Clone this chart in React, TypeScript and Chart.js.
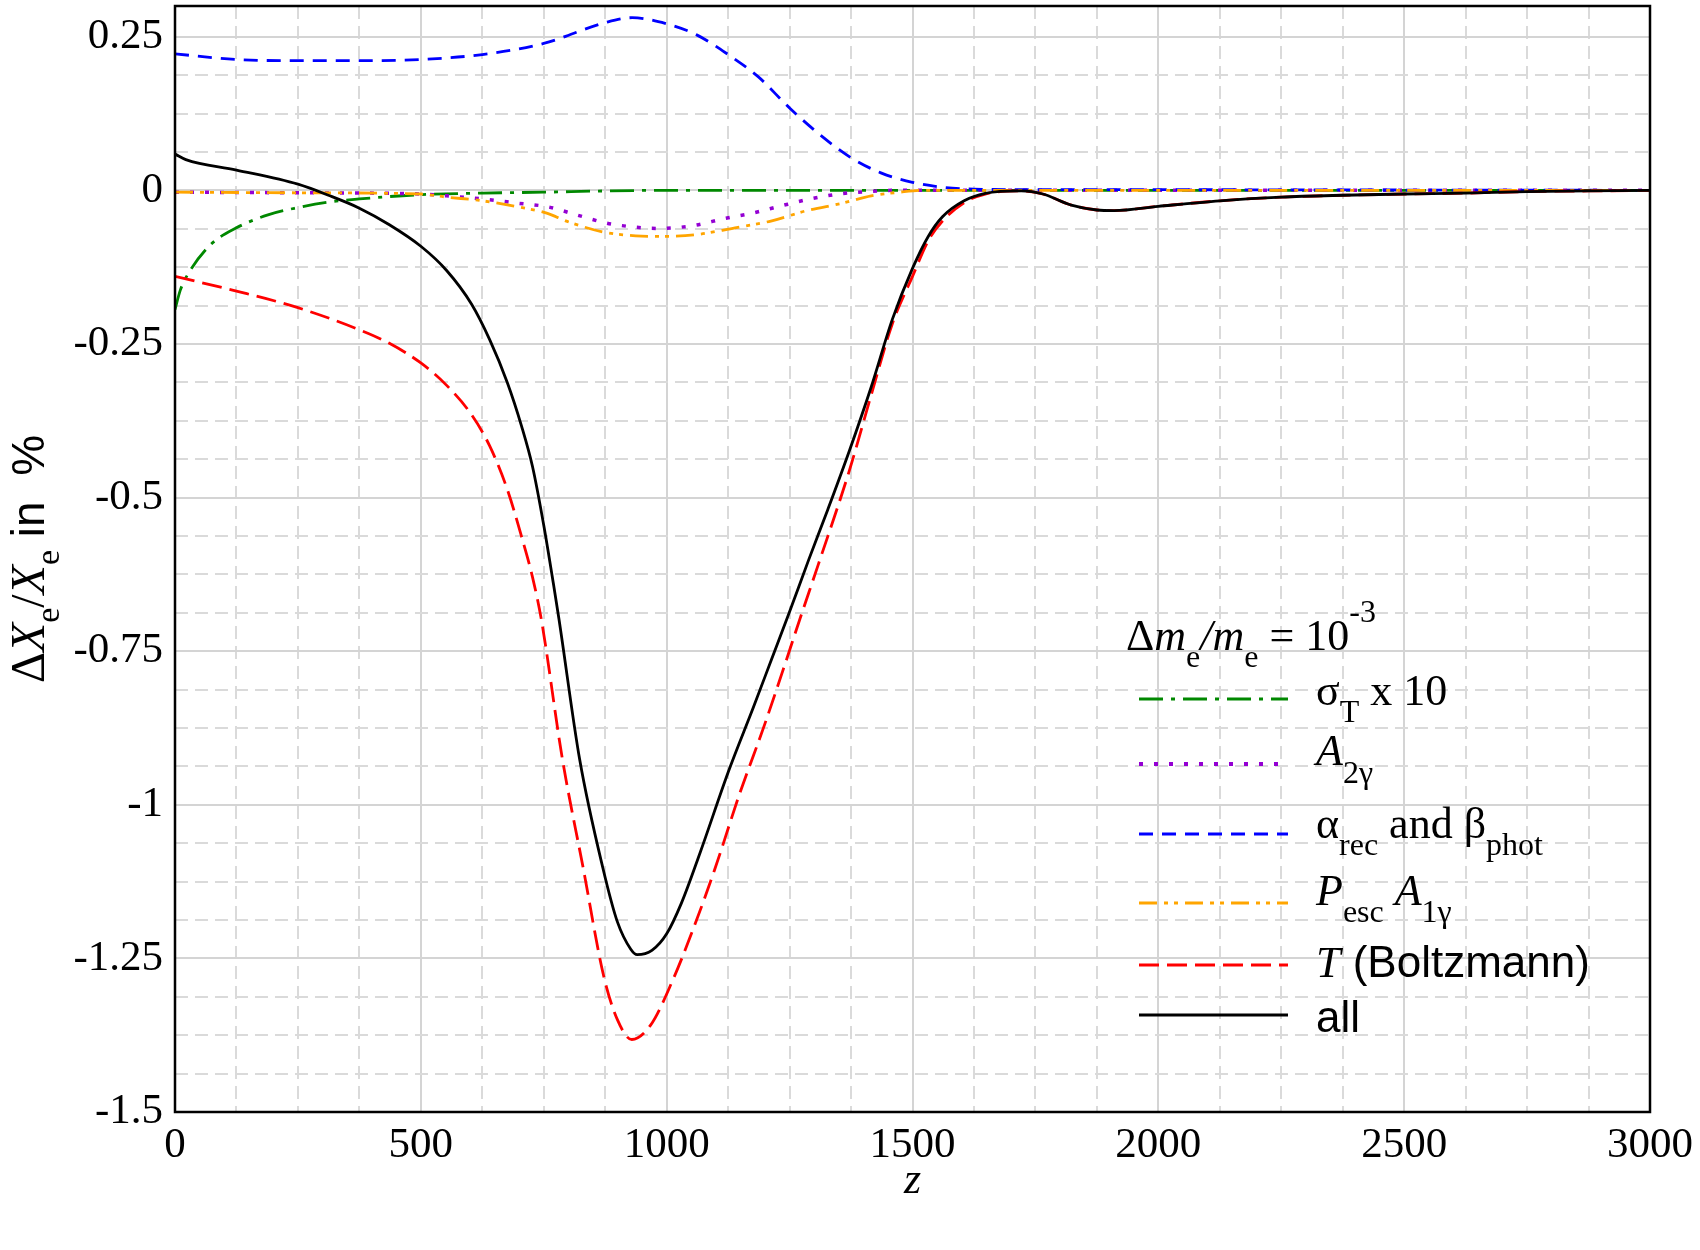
import React, { useEffect, useRef } from "react";
import { Chart, registerables } from "chart.js";

Chart.register(...registerables);

// ---- data (z, ΔXe/Xe in %) ----
const zGreen = [0, 11, 29, 73, 125, 189, 250, 312, 375, 500, 625, 750, 875, 1000, 1500, 2000, 2500, 3000];
const vGreen = [-0.194, -0.162, -0.133, -0.088, -0.061, -0.04, -0.028, -0.019, -0.014, -0.007, -0.0045, -0.003, -0.001, 0, 0, 0, 0, 0];

const zPurple = [0, 250, 500, 552, 625, 698, 759, 817, 876, 937, 985, 1057, 1117, 1175, 1234, 1292, 1350, 1408, 1467, 2000, 3000];
const vPurple = [-0.003, -0.004, -0.006, -0.009, -0.014, -0.021, -0.027, -0.04, -0.053, -0.06, -0.062, -0.057, -0.046, -0.037, -0.025, -0.014, -0.006, -0.002, 0, 0, 0];

const zBlue = [0, 125, 250, 375, 500, 625, 750, 875, 930, 1000, 1061, 1125, 1186, 1250, 1314, 1375, 1437, 1500, 1561, 1625, 1750, 2000, 2500, 3000];
const vBlue = [0.222, 0.213, 0.211, 0.211, 0.213, 0.221, 0.239, 0.273, 0.281, 0.271, 0.253, 0.221, 0.185, 0.134, 0.089, 0.053, 0.028, 0.013, 0.005, 0.002, 0.001, 0.001, 0.0005, 0];

const zOrange = [0, 250, 500, 552, 625, 698, 756, 799, 872, 937, 990, 1061, 1139, 1212, 1285, 1357, 1416, 1474, 1520, 2000, 3000];
const vOrange = [-0.003, -0.004, -0.006, -0.011, -0.017, -0.027, -0.037, -0.051, -0.068, -0.074, -0.075, -0.072, -0.061, -0.05, -0.033, -0.021, -0.009, -0.003, 0, 0, 0];

const zRed = [0, 125, 250, 375, 436, 500, 552, 603, 640, 676, 705, 727, 745, 788, 830, 872, 900, 929, 967, 1011, 1055, 1097, 1148, 1199, 1242, 1270, 1308, 1372, 1416, 1459, 1500, 1532, 1561, 1605, 1648, 1721, 1765, 1823, 1875, 1910, 2000, 2125, 2250, 2375, 2500, 2625, 2750, 2875, 3000];
const vRed = [-0.14, -0.164, -0.191, -0.227, -0.249, -0.281, -0.317, -0.365, -0.416, -0.487, -0.564, -0.629, -0.698, -0.926, -1.102, -1.279, -1.35, -1.382, -1.359, -1.288, -1.2, -1.107, -0.983, -0.87, -0.768, -0.7, -0.61, -0.455, -0.333, -0.217, -0.14, -0.082, -0.05, -0.02, -0.006, -0.001, -0.006, -0.024, -0.032, -0.033, -0.026, -0.017, -0.011, -0.008, -0.006, -0.0045, -0.002, -0.001, 0];

const zAll = [0, 22, 125, 250, 312, 375, 436, 500, 552, 603, 640, 676, 705, 727, 750, 770, 781, 823, 870, 900, 927, 940, 970, 1000, 1030, 1068, 1126, 1177, 1213, 1249, 1289, 1328, 1372, 1416, 1459, 1500, 1532, 1561, 1605, 1648, 1721, 1765, 1823, 1875, 1910, 2000, 2125, 2250, 2375, 2500, 2625, 2750, 2875, 3000];
const vAll = [0.059, 0.05, 0.033, 0.01, -0.008, -0.029, -0.056, -0.091, -0.13, -0.185, -0.243, -0.313, -0.384, -0.449, -0.545, -0.642, -0.698, -0.926, -1.102, -1.191, -1.235, -1.244, -1.237, -1.21, -1.16, -1.078, -0.945, -0.84, -0.764, -0.688, -0.601, -0.519, -0.423, -0.32, -0.21, -0.127, -0.075, -0.043, -0.017, -0.005, -0.001, -0.006, -0.024, -0.032, -0.033, -0.026, -0.017, -0.011, -0.008, -0.006, -0.0045, -0.002, -0.001, 0];

// ---- axes ----
const xMin = 0;
const xMax = 3000;
const xMajorStep = 500;
const xMinorStep = 125;
const yMin = -1.5;
const yMax = 0.3;
const yMajorStep = 0.25;
const yMinorStep = 0.0625;
const yTickLabels: Record<string, string> = {
  "0.25": "0.25", "0": "0", "-0.25": "-0.25", "-0.5": "-0.5", "-0.75": "-0.75",
  "-1": "-1", "-1.25": "-1.25", "-1.5": "-1.5",
};

const SERIF = '"Liberation Serif", "Times New Roman", serif';
const SANS = '"Liberation Sans", Arial, sans-serif';

type Part = { t: string; f: string; dy?: number };

function drawParts(ctx: CanvasRenderingContext2D, x: number, y: number, parts: Part[]) {
  let cx = x;
  for (const p of parts) {
    ctx.font = p.f;
    ctx.fillText(p.t, cx, y + (p.dy || 0));
    cx += ctx.measureText(p.t).width;
  }
  return cx;
}
function partsWidth(ctx: CanvasRenderingContext2D, parts: Part[]) {
  let w = 0;
  for (const p of parts) {
    ctx.font = p.f;
    w += ctx.measureText(p.t).width;
  }
  return w;
}

const isMul = (v: number, s: number) => Math.abs(v / s - Math.round(v / s)) < 1e-6;

const f44 = `44px ${SERIF}`;
const i44 = `italic 44px ${SERIF}`;
const s32 = `32px ${SERIF}`;
const sans44 = `44px ${SANS}`;

const legendRows = [
  { color: "#008800", dash: [24, 8, 4, 8], width: 3, y: 699, base: 705,
    parts: [{ t: "σ", f: f44 }, { t: "T", f: s32, dy: 17 }, { t: " x 10", f: f44 }] },
  { color: "#9400D3", dash: [4, 11], width: 4, y: 764, base: 765,
    parts: [{ t: "A", f: i44 }, { t: "2γ", f: s32, dy: 18 }] },
  { color: "#0000FF", dash: [14, 9], width: 3, y: 834, base: 838,
    parts: [{ t: "α", f: f44 }, { t: "rec", f: s32, dy: 17 }, { t: " and β", f: f44 }, { t: "phot", f: s32, dy: 17 }] },
  { color: "#FFA500", dash: [18, 7, 4, 6, 4, 7], width: 3, y: 903, base: 905,
    parts: [{ t: "P", f: i44 }, { t: "esc", f: s32, dy: 17 }, { t: " ", f: f44 }, { t: "A", f: i44 }, { t: "1γ", f: s32, dy: 17 }] },
  { color: "#FF0000", dash: [20, 8], width: 3, y: 965, base: 977,
    parts: [{ t: "T", f: i44 }, { t: " (Boltzmann)", f: sans44 }] },
  { color: "#000000", dash: [] as number[], width: 3, y: 1015, base: 1032,
    parts: [{ t: "all", f: sans44 }] },
];

const decorPlugin = {
  id: "decor",
  afterDatasetsDraw(chart: any) {
    const { ctx, chartArea } = chart;
    ctx.save();
    // frame
    ctx.strokeStyle = "#000";
    ctx.lineWidth = 2.5;
    ctx.setLineDash([]);
    ctx.strokeRect(chartArea.left, chartArea.top, chartArea.right - chartArea.left, chartArea.bottom - chartArea.top);

    ctx.fillStyle = "#000";
    ctx.textBaseline = "alphabetic";
    ctx.textAlign = "left";
    // legend title
    drawParts(ctx, 1126, 650, [
      { t: "Δ", f: f44 }, { t: "m", f: i44 }, { t: "e", f: s32, dy: 17 }, { t: "/", f: i44 },
      { t: "m", f: i44 }, { t: "e", f: s32, dy: 17 }, { t: " = 10", f: f44 }, { t: "-3", f: s32, dy: -28 },
    ]);
    for (const r of legendRows) {
      ctx.beginPath();
      ctx.strokeStyle = r.color;
      ctx.lineWidth = r.width;
      ctx.lineCap = "butt";
      ctx.setLineDash(r.dash);
      ctx.moveTo(1139, r.y);
      ctx.lineTo(1288, r.y);
      ctx.stroke();
      ctx.setLineDash([]);
      ctx.fillStyle = "#000";
      drawParts(ctx, 1316, r.base, r.parts);
    }

    // x title
    ctx.font = `italic 44px ${SERIF}`;
    ctx.textAlign = "center";
    ctx.fillText("z", (chartArea.left + chartArea.right) / 2, 1193);
    ctx.textAlign = "left";

    // y title
    const yParts: Part[] = [
      { t: "Δ", f: `48px ${SERIF}` }, { t: "X", f: `italic 48px ${SERIF}` }, { t: "e", f: `34px ${SERIF}`, dy: 15 },
      { t: "/", f: `48px ${SERIF}` }, { t: "X", f: `italic 48px ${SERIF}` }, { t: "e", f: `34px ${SERIF}`, dy: 15 },
      { t: " in  %", f: `46px ${SANS}` },
    ];
    const w = partsWidth(ctx, yParts);
    ctx.translate(44, (chartArea.top + chartArea.bottom) / 2);
    ctx.rotate(-Math.PI / 2);
    drawParts(ctx, -w / 2, 0, yParts);
    ctx.restore();
  },
};

function mk(label: string, zs: number[], vs: number[], color: string, dash: number[], width: number, order: number) {
  return {
    label,
    data: zs.map((z, i) => ({ x: z, y: vs[i] })),
    borderColor: color,
    backgroundColor: color,
    borderWidth: width,
    borderDash: dash,
    pointRadius: 0,
    fill: false,
    cubicInterpolationMode: "monotone" as const,
    order,
  };
}

export default function App() {
  const ref = useRef<HTMLCanvasElement | null>(null);
  useEffect(() => {
    if (!ref.current) return;
    const chart = new Chart(ref.current, {
      type: "line",
      data: {
        datasets: [
          mk("all", zAll, vAll, "#000000", [], 2.8, 0),
          mk("T (Boltzmann)", zRed, vRed, "#FF0000", [20, 8], 2.8, 1),
          mk("Pesc A1γ", zOrange, vOrange, "#FFA500", [18, 7, 4, 6, 4, 7], 2.8, 2),
          mk("α and β", zBlue, vBlue, "#0000FF", [14, 9], 2.8, 3),
          mk("A2γ", zPurple, vPurple, "#9400D3", [4, 11], 3.5, 4),
          mk("σT x 10", zGreen, vGreen, "#008800", [24, 8, 4, 8], 2.8, 5),
        ] as any,
      },
      options: {
        responsive: false,
        animation: false,
        layout: { padding: { left: 0, top: 6, right: 50, bottom: 0 } },
        plugins: { legend: { display: false }, tooltip: { enabled: false }, title: { display: false } },
        scales: {
          x: {
            type: "linear",
            min: xMin,
            max: xMax,
            afterFit: (s: any) => { s.height = 138; s.paddingLeft = 0; s.paddingRight = 0; },
            afterBuildTicks: (s: any) => {
              const t = [];
              for (let v = xMin; v <= xMax + 1e-9; v += xMinorStep) t.push({ value: v });
              s.ticks = t;
            },
            ticks: {
              autoSkip: false,
              maxRotation: 0,
              padding: 8,
              color: "#000",
              font: { family: SERIF, size: 43 },
              callback: (v: any) => (isMul(Number(v), xMajorStep) ? String(v) : ""),
            },
            grid: {
              drawTicks: false,
              lineWidth: 2,
              color: (c: any) => (c.tick && isMul(c.tick.value, xMajorStep) ? "#d4d4d4" : "#dadada"),
            },
            border: {
              display: false,
              dash: (c: any) => (c.tick && !isMul(c.tick.value, xMajorStep) ? [13, 7] : []),
            } as any,
          },
          y: {
            type: "linear",
            min: yMin,
            max: yMax,
            afterFit: (s: any) => { s.width = 175; s.paddingTop = 0; s.paddingBottom = 0; },
            afterBuildTicks: (s: any) => {
              const t = [];
              for (let v = yMin; v <= yMax + 1e-9; v += yMinorStep) t.push({ value: Math.round(v * 10000) / 10000 });
              s.ticks = t;
            },
            ticks: {
              autoSkip: false,
              padding: 12,
              color: "#000",
              font: { family: SERIF, size: 43 },
              callback: (v: any) => {
                const n = Number(v);
                if (!isMul(n, yMajorStep)) return "";
                const key = String(Math.round(n * 100) / 100);
                return yTickLabels[key] ?? key;
              },
            },
            grid: {
              drawTicks: false,
              lineWidth: 2,
              color: (c: any) => (c.tick && isMul(c.tick.value, yMajorStep) ? "#d4d4d4" : "#dadada"),
            },
            border: {
              display: false,
              dash: (c: any) => (c.tick && !isMul(c.tick.value, yMajorStep) ? [13, 7] : []),
            } as any,
          },
        },
      } as any,
      plugins: [decorPlugin],
    });
    return () => chart.destroy();
  }, []);
  return (
    <div style={{ position: "absolute", left: 0, top: 0, width: 1700, height: 1250, background: "#fff" }}>
      <canvas ref={ref} width={1700} height={1250} style={{ display: "block" }} />
    </div>
  );
}
